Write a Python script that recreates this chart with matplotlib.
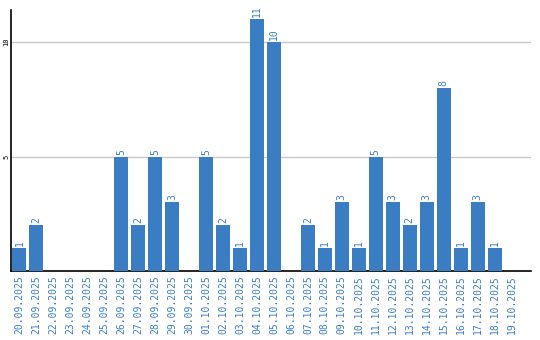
import matplotlib
matplotlib.use("Agg")
import matplotlib.pyplot as plt

dates = ["20.09.2025", "21.09.2025", "22.09.2025", "23.09.2025", "24.09.2025",
         "25.09.2025", "26.09.2025", "27.09.2025", "28.09.2025", "29.09.2025",
         "30.09.2025", "01.10.2025", "02.10.2025", "03.10.2025", "04.10.2025",
         "05.10.2025", "06.10.2025", "07.10.2025", "08.10.2025", "09.10.2025",
         "10.10.2025", "11.10.2025", "12.10.2025", "13.10.2025", "14.10.2025",
         "15.10.2025", "16.10.2025", "17.10.2025", "18.10.2025", "19.10.2025"]
values = [1, 2, 0, 0, 0, 0, 5, 2, 5, 3, 0, 5, 2, 1, 11, 10, 0, 2, 1, 3,
          1, 5, 3, 2, 3, 8, 1, 3, 1, 0]
yticks = [5, 10]

blue = "#3b7dc3"
fig = plt.figure(figsize=(5.4, 3.4), dpi=100)
ax = fig.add_axes([11/540, 1 - 271/340, 520/540, 261/340])

x = list(range(len(dates)))
ax.bar(x, values, width=14/17, color=blue, zorder=3)
for xi, v in zip(x, values):
    if v > 0:
        ax.text(xi, v + 0.08, str(v), rotation=90, ha="center", va="bottom",
                color=blue, fontsize=7, family="DejaVu Sans Mono", zorder=4)

ax.set_xlim(-0.5, 30.15)
ax.set_ylim(0, 11.4)
ax.set_yticks(yticks)
ax.set_yticklabels([str(t) for t in yticks], rotation=90, va="center",
                   fontsize=5, family="DejaVu Sans Mono")
ax.set_xticks(x)
ax.set_xticklabels(dates, rotation=90, color=blue, fontsize=7,
                   family="DejaVu Sans Mono")
ax.tick_params(axis="x", length=0, pad=3)
ax.tick_params(axis="y", length=0, pad=1)
ax.grid(axis="y", color="#c8c8c8", linewidth=1, zorder=0)
for s in ["top", "right"]:
    ax.spines[s].set_visible(False)
ax.spines["left"].set_color("black")
ax.spines["bottom"].set_color("black")
ax.spines["left"].set_linewidth(1.2)
ax.spines["bottom"].set_linewidth(1.2)
fig.savefig("out.png", dpi=100)
